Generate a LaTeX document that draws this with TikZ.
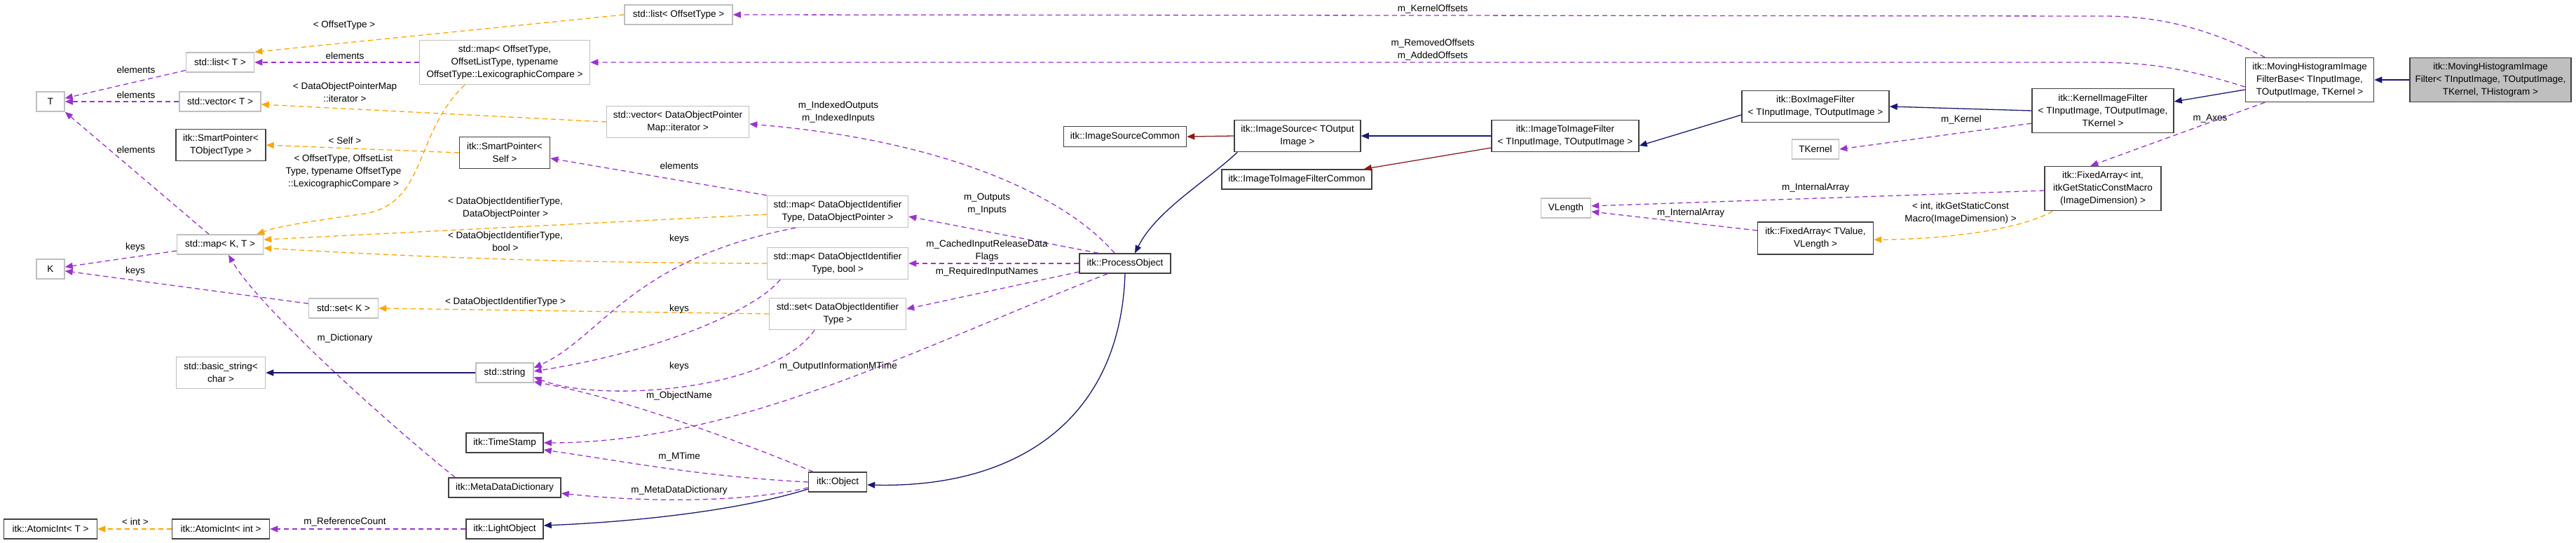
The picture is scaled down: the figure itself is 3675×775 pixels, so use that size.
\documentclass[tikz,border=0pt]{standalone}
\usepackage{fontspec}
\setmainfont{Liberation Sans}
\usetikzlibrary{arrows.meta}
\definecolor{pc}{HTML}{9A32CD}
\definecolor{oc}{HTML}{FFA500}
\definecolor{bc}{HTML}{191970}
\definecolor{rc}{HTML}{8B1A1A}
\definecolor{gb}{HTML}{BFBFBF}
\definecolor{db}{HTML}{404040}
\begin{document}
\begin{tikzpicture}[x=1pt,y=1pt,
  font=\fontsize{13.5}{18}\selectfont,
  gx/.style={draw=gb,line width=1.5pt,align=center,inner sep=0pt,fill=white},
  bx/.style={draw=db,line width=1.5pt,align=center,inner sep=0pt,fill=white},
  lbl/.style={align=center,inner sep=0pt},
  tip/.style={-{Triangle[length=11pt,width=9pt]}},
  pe/.style={tip,draw=pc,line width=1.3pt,dash pattern=on 7pt off 5pt},
  oe/.style={tip,draw=oc,line width=1.3pt,dash pattern=on 7pt off 5pt},
  be/.style={tip,draw=bc,line width=1.3pt},
  re/.style={tip,draw=rc,line width=1.3pt}]
\useasboundingbox (0,0) rectangle (3675,-775);
% nodes
\node[gx,minimum width=40pt,minimum height=28pt] (T) at (72,-145) {T};
\node[gx,minimum width=40pt,minimum height=28pt] (K) at (72,-384) {K};
\node[gx,minimum width=97pt,minimum height=28pt] (listT) at (314,-89) {std::list< T >};
\node[gx,minimum width=116pt,minimum height=28pt] (vecT) at (314,-145) {std::vector< T >};
\node[bx,minimum width=128pt,minimum height=45pt] (spT) at (315,-207) {itk::SmartPointer<\\TObjectType >};
\node[gx,minimum width=123pt,minimum height=28pt] (mapKT) at (314,-349) {std::map< K, T >};
\node[gx,minimum width=99pt,minimum height=28pt] (setK) at (490,-440) {std::set< K >};
\node[gx,minimum width=127pt,minimum height=45pt] (bstr) at (315,-532) {std::basic\_string<\\char >};
\node[bx,minimum width=133pt,minimum height=28pt] (aiT) at (72,-755) {itk::AtomicInt< T >};
\node[bx,minimum width=139pt,minimum height=28pt] (aiI) at (315,-755) {itk::AtomicInt< int >};
\node[gx,minimum width=243pt,minimum height=63pt] (mapOff) at (720,-89) {std::map< OffsetType,\\OffsetListType, typename\\OffsetType::LexicographicCompare >};
\node[gx,minimum width=154pt,minimum height=28pt] (listOff) at (968,-21) {std::list< OffsetType >};
\node[gx,minimum width=203pt,minimum height=45pt] (vecDOP) at (967,-174) {std::vector< DataObjectPointer\\Map::iterator >};
\node[bx,minimum width=129pt,minimum height=45pt] (spS) at (720,-218) {itk::SmartPointer<\\Self >};
\node[gx,minimum width=201pt,minimum height=45pt] (mapDOP) at (1195,-302) {std::map< DataObjectIdentifier\\Type, DataObjectPointer >};
\node[gx,minimum width=201pt,minimum height=45pt] (mapB) at (1195,-376) {std::map< DataObjectIdentifier\\Type, bool >};
\node[gx,minimum width=195pt,minimum height=45pt] (setD) at (1195,-448) {std::set< DataObjectIdentifier\\Type >};
\node[gx,minimum width=82pt,minimum height=28pt] (str) at (720,-532) {std::string};
\node[bx,minimum width=110pt,minimum height=28pt] (ts) at (720,-632) {itk::TimeStamp};
\node[bx,minimum width=160pt,minimum height=28pt] (mdd) at (720,-696) {itk::MetaDataDictionary};
\node[bx,minimum width=110pt,minimum height=28pt] (lo) at (720,-755) {itk::LightObject};
\node[bx,minimum width=83pt,minimum height=28pt] (obj) at (1195,-688) {itk::Object};
\node[bx,minimum width=130pt,minimum height=28pt] (po) at (1605,-376) {itk::ProcessObject};
\node[bx,minimum width=175pt,minimum height=29pt] (isc) at (1605,-195) {itk::ImageSourceCommon};
\node[bx,minimum width=180pt,minimum height=45pt] (is) at (1851,-194) {itk::ImageSource< TOutput\\Image >};
\node[bx,minimum width=214pt,minimum height=28pt] (iic) at (1850,-256) {itk::ImageToImageFilterCommon};
\node[bx,minimum width=210pt,minimum height=45pt] (iif) at (2233,-194) {itk::ImageToImageFilter\\< TInputImage, TOutputImage >};
\node[bx,minimum width=210pt,minimum height=45pt] (box) at (2590,-152) {itk::BoxImageFilter\\< TInputImage, TOutputImage >};
\node[gx,minimum width=67pt,minimum height=28pt] (tk) at (2590,-213) {TKernel};
\node[gx,minimum width=71pt,minimum height=28pt] (vl) at (2234,-297) {VLength};
\node[bx,minimum width=165pt,minimum height=46pt] (faT) at (2590,-340) {itk::FixedArray< TValue,\\VLength >};
\node[bx,minimum width=202pt,minimum height=63pt] (kif) at (3000,-158) {itk::KernelImageFilter\\< TInputImage, TOutputImage,\\TKernel >};
\node[bx,minimum width=166pt,minimum height=63pt] (faI) at (3000,-269) {itk::FixedArray< int,\\itkGetStaticConstMacro\\(ImageDimension) >};
\node[bx,minimum width=183pt,minimum height=63pt] (mhb) at (3295,-114) {itk::MovingHistogramImage\\FilterBase< TInputImage,\\TOutputImage, TKernel >};
\node[bx,fill=gb,minimum width=230pt,minimum height=63pt] (mhf) at (3553,-114) {itk::MovingHistogramImage\\Filter< TInputImage, TOutputImage,\\TKernel, THistogram >};
% edges
\draw[pe] (listT) -- (T);
\draw[pe] (vecT.west) -- (T.east);
\draw[pe] ([xshift=-16pt]mapKT.north) -- (T.south east);
\draw[pe] (mapKT) -- (K);
\draw[pe] (setK) -- (K);
\draw[pe] ([xshift=10pt]mdd.north west) .. controls (560,-610) and (370,-440) .. ([xshift=12pt]mapKT.south);
\draw[oe] (listOff.west) -- (listT.north east);
\draw[pe] (mapOff.west) -- (listT.east);
\draw[oe] ([xshift=-57pt]mapOff.south) .. controls (590,-190) and (610,-290) .. (520,-305) .. controls (450,-315) and (400,-322) .. ([xshift=-10pt]mapKT.north east);
\draw[oe] (vecDOP.west) -- ([yshift=-4pt]vecT.east);
\draw[oe] (spS.west) -- (spT.east);
\draw[oe] ([yshift=-4pt]mapDOP.west) -- ([yshift=7pt]mapKT.east);
\draw[oe] (mapB.west) .. controls (800,-375) and (600,-367) .. ([yshift=-5pt]mapKT.east);
\draw[oe] (setD.west) -- (setK.east);
\draw[pe] (mapDOP.north west) -- ([yshift=-8pt]spS.east);
\draw[pe] ([xshift=-60pt]mapDOP.south) .. controls (900,-370) and (860,-480) .. ([yshift=7pt]str.east);
\draw[pe] ([xshift=-82pt]mapB.south) .. controls (1080,-440) and (950,-500) .. ([yshift=2pt]str.east);
\draw[pe] ([xshift=-33pt]setD.south) .. controls (1100,-560) and (850,-575) .. ([yshift=-6pt]str.east);
\draw[pe] ([xshift=-35pt]obj.north) .. controls (1080,-640) and (900,-570) .. ([yshift=-13pt]str.east);
\draw[pe] ([xshift=-25pt]po.south) .. controls (1300,-500) and (1050,-632) .. (ts.east);
\draw[pe] (obj.west) .. controls (1000,-680) and (900,-660) .. ([yshift=-10pt]ts.east);
\draw[pe] ([yshift=-8pt]obj.west) .. controls (1050,-720) and (900,-715) .. ([yshift=-8pt]mdd.east);
\draw[pe] (lo.west) -- (aiI.east);
\draw[oe] (aiI.west) -- (aiT.east);
\draw[be] (str.west) -- (bstr.east);
\draw[be] ([yshift=-10pt]obj.west) .. controls (1050,-730) and (900,-745) .. ([yshift=5pt]lo.east);
\draw[be] (po.south) .. controls (1598,-600) and (1450,-697) .. ([yshift=-4pt]obj.east);
\draw[be] ([xshift=5pt]is.south west) .. controls (1720,-260) and (1650,-300) .. ([xshift=14pt]po.north);
\draw[re] (is.west) -- (isc.east);
\draw[be] (iif.west) -- (is.east);
\draw[re] ([yshift=-17pt]iif.west) -- ([xshift=-12pt]iic.north east);
\draw[be] ([yshift=-12pt]box.west) -- ([yshift=-14pt]iif.east);
\draw[be] (kif.west) -- (box.east);
\draw[pe] ([yshift=-18pt]kif.west) -- (tk.east);
\draw[be] ([yshift=-14pt]mhb.west) -- ([yshift=13pt]kif.east);
\draw[be] (mhf.west) -- (mhb.east);
\draw[pe] ([xshift=-64pt]mhb.north) .. controls (3150,-40) and (3080,-23) .. (3000,-23) -- (listOff.east);
\draw[pe] ([yshift=-10pt]mhb.west) .. controls (3100,-92) and (3050,-89) .. (2980,-89) -- (mapOff.east);
\draw[pe] ([xshift=-64pt]mhb.south) -- ([xshift=66pt]faI.north west);
\draw[pe] ([yshift=-3pt]faI.west) -- ([yshift=3pt]vl.east);
\draw[pe] ([yshift=11pt]faT.west) -- ([yshift=-5pt]vl.east);
\draw[oe] ([xshift=12pt]faI.south west) .. controls (2880,-330) and (2760,-342) .. ([yshift=-2pt]faT.east);
\draw[pe] ([xshift=-15pt]po.north) .. controls (1520,-280) and (1350,-200) .. ([yshift=-3pt]vecDOP.east);
\draw[pe] ([xshift=-38pt]po.north) -- ([yshift=-7pt]mapDOP.east);
\draw[pe] (po.west) -- (mapB.east);
\draw[pe] ([yshift=-12pt]po.west) -- ([yshift=7pt]setD.east);
% labels
\node[lbl] (l1) at (194,-100) {elements};
\node[lbl] (l2) at (194,-136) {elements};
\node[lbl] (l3) at (194,-214) {elements};
\node[lbl] (l4) at (193,-353) {keys};
\node[lbl] (l5) at (193,-387) {keys};
\node[lbl] (l6) at (492,-483) {m\_Dictionary};
\node[lbl] (l7) at (491,-36) {< OffsetType >};
\node[lbl] (l8) at (492,-80) {elements};
\node[lbl] (l9) at (490,-245) {< OffsetType, OffsetList\\Type, typename OffsetType\\::LexicographicCompare >};
\node[lbl] (l10) at (492,-132) {< DataObjectPointerMap\\::iterator >};
\node[lbl] (l11) at (492,-201) {< Self >};
\node[lbl] (l12) at (721,-297) {< DataObjectIdentifierType,\\DataObjectPointer >};
\node[lbl] (l13) at (721,-345) {< DataObjectIdentifierType,\\bool >};
\node[lbl] (l14) at (721,-431) {< DataObjectIdentifierType >};
\node[lbl] (l15) at (969,-237) {elements};
\node[lbl] (l16) at (969,-341) {keys};
\node[lbl] (l17) at (969,-441) {keys};
\node[lbl] (l18) at (969,-523) {keys};
\node[lbl] (l19) at (969,-565) {m\_ObjectName};
\node[lbl] (l20) at (1196,-523) {m\_OutputInformationMTime};
\node[lbl] (l21) at (969,-652) {m\_MTime};
\node[lbl] (l22) at (969,-700) {m\_MetaDataDictionary};
\node[lbl] (l23) at (492,-745) {m\_ReferenceCount};
\node[lbl] (l24) at (193,-745) {< int >};
\node[lbl] (l25) at (1196,-160) {m\_IndexedOutputs\\m\_IndexedInputs};
\node[lbl] (l26) at (1408,-291) {m\_Outputs\\m\_Inputs};
\node[lbl] (l27) at (1408,-358) {m\_CachedInputReleaseData\\Flags};
\node[lbl] (l28) at (1408,-388) {m\_RequiredInputNames};
\node[lbl] (l29) at (2044,-13) {m\_KernelOffsets};
\node[lbl] (l30) at (2044,-71) {m\_RemovedOffsets\\m\_AddedOffsets};
\node[lbl] (l31) at (2798,-171) {m\_Kernel};
\node[lbl] (l32) at (3153,-169) {m\_Axes};
\node[lbl] (l33) at (2590,-268) {m\_InternalArray};
\node[lbl] (l34) at (2412,-304) {m\_InternalArray};
\node[lbl] (l35) at (2797,-304) {< int, itkGetStaticConst\\Macro(ImageDimension) >};
\end{tikzpicture}
\end{document}
